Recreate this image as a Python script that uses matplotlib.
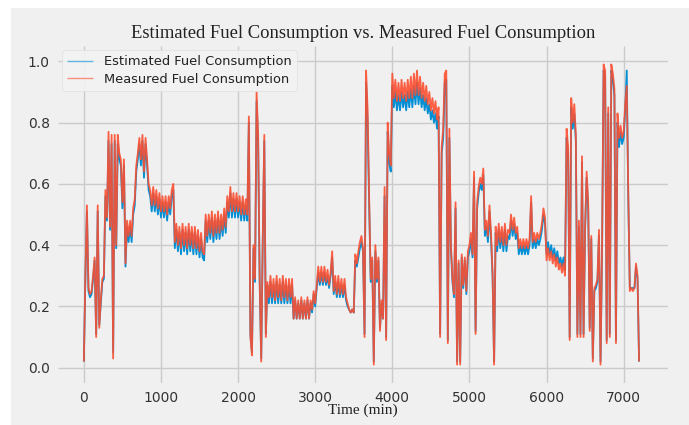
import matplotlib
matplotlib.use("Agg")
import matplotlib.pyplot as plt
import numpy as np
from matplotlib.patches import Rectangle

# ---------------- data ----------------
time_step_min = 20  # one sample every 20 minutes, starting at 0

measured = [
    0.02, 0.30, 0.53, 0.26, 0.24, 0.25, 0.30, 0.36, 0.10, 0.53,
    0.13, 0.22, 0.29, 0.30, 0.58, 0.49, 0.77, 0.46, 0.76, 0.03,
    0.76, 0.40, 0.76, 0.70, 0.68, 0.54, 0.68, 0.34, 0.48, 0.43,
    0.48, 0.43, 0.52, 0.55, 0.66, 0.70, 0.75, 0.68, 0.76, 0.64,
    0.75, 0.68, 0.60, 0.58, 0.53, 0.59, 0.53, 0.58, 0.52, 0.57,
    0.51, 0.56, 0.51, 0.56, 0.50, 0.56, 0.52, 0.58, 0.60, 0.41,
    0.47, 0.40, 0.46, 0.39, 0.47, 0.40, 0.46, 0.39, 0.47, 0.40,
    0.46, 0.39, 0.46, 0.39, 0.45, 0.38, 0.44, 0.38, 0.37, 0.50,
    0.43, 0.50, 0.44, 0.51, 0.43, 0.50, 0.44, 0.51, 0.44, 0.50,
    0.45, 0.52, 0.46, 0.56, 0.51, 0.59, 0.51, 0.57, 0.51, 0.57,
    0.51, 0.56, 0.50, 0.56, 0.50, 0.55, 0.50, 0.82, 0.10, 0.04,
    0.40, 0.29, 0.90, 0.76, 0.29, 0.02, 0.42, 0.76, 0.10, 0.28,
    0.23, 0.30, 0.23, 0.29, 0.22, 0.30, 0.23, 0.29, 0.22, 0.30,
    0.23, 0.29, 0.22, 0.29, 0.23, 0.29, 0.16, 0.23, 0.16, 0.22,
    0.16, 0.23, 0.16, 0.22, 0.16, 0.23, 0.16, 0.22, 0.19, 0.25,
    0.21, 0.27, 0.33, 0.28, 0.33, 0.28, 0.33, 0.28, 0.32, 0.27,
    0.31, 0.38, 0.25, 0.30, 0.24, 0.30, 0.24, 0.29, 0.24, 0.29,
    0.23, 0.21, 0.19, 0.18, 0.19, 0.18, 0.37, 0.34, 0.38, 0.41,
    0.43, 0.39, 0.10, 0.97, 0.84, 0.55, 0.29, 0.36, 0.01, 0.40,
    0.29, 0.36, 0.12, 0.22, 0.16, 0.59, 0.09, 0.80, 0.70, 0.66,
    0.96, 0.88, 0.94, 0.87, 0.93, 0.87, 0.94, 0.88, 0.93, 0.87,
    0.94, 0.88, 0.95, 0.88, 0.96, 0.89, 0.97, 0.89, 0.95, 0.88,
    0.93, 0.87, 0.92, 0.86, 0.90, 0.84, 0.88, 0.83, 0.87, 0.81,
    0.85, 0.10, 0.72, 0.78, 0.96, 0.97, 0.08, 0.78, 0.40, 0.29,
    0.24, 0.54, 0.01, 0.35, 0.01, 0.37, 0.27, 0.36, 0.25, 0.38,
    0.40, 0.44, 0.37, 0.64, 0.11, 0.54, 0.59, 0.62, 0.60, 0.65,
    0.45, 0.48, 0.43, 0.53, 0.44, 0.31, 0.01, 0.46, 0.40, 0.47,
    0.41, 0.46, 0.40, 0.47, 0.40, 0.45, 0.44, 0.50, 0.45, 0.49,
    0.44, 0.46, 0.39, 0.42, 0.39, 0.42, 0.39, 0.42, 0.39, 0.42,
    0.56, 0.41, 0.44, 0.41, 0.44, 0.42, 0.44, 0.47, 0.52, 0.49,
    0.35, 0.39, 0.35, 0.38, 0.34, 0.37, 0.33, 0.36, 0.32, 0.34,
    0.31, 0.34, 0.30, 0.78, 0.72, 0.09, 0.88, 0.80, 0.86, 0.76,
    0.10, 0.48, 0.10, 0.69, 0.10, 0.46, 0.64, 0.54, 0.12, 0.43,
    0.02, 0.26, 0.27, 0.29, 0.45, 0.01, 0.39, 0.99, 0.97, 0.08,
    0.85, 0.10, 0.99, 0.96, 0.91, 0.08, 0.83, 0.75, 0.79, 0.75,
    0.77, 0.86, 0.92, 0.57, 0.25, 0.26, 0.25, 0.26, 0.34, 0.30, 0.02,
]

estimated = [
    0.02, 0.29, 0.51, 0.25, 0.23, 0.24, 0.29, 0.35, 0.11, 0.51,
    0.14, 0.21, 0.28, 0.29, 0.56, 0.48, 0.74, 0.45, 0.73, 0.05,
    0.74, 0.39, 0.73, 0.68, 0.66, 0.52, 0.66, 0.33, 0.46, 0.41,
    0.46, 0.41, 0.50, 0.53, 0.64, 0.68, 0.73, 0.66, 0.74, 0.62,
    0.73, 0.66, 0.58, 0.56, 0.51, 0.57, 0.51, 0.56, 0.50, 0.55,
    0.49, 0.54, 0.49, 0.54, 0.48, 0.54, 0.50, 0.56, 0.58, 0.39,
    0.45, 0.38, 0.44, 0.37, 0.45, 0.38, 0.44, 0.37, 0.45, 0.38,
    0.44, 0.37, 0.44, 0.37, 0.43, 0.36, 0.42, 0.36, 0.35, 0.48,
    0.41, 0.48, 0.42, 0.49, 0.41, 0.48, 0.42, 0.49, 0.42, 0.48,
    0.43, 0.50, 0.44, 0.54, 0.49, 0.57, 0.49, 0.55, 0.49, 0.55,
    0.49, 0.54, 0.48, 0.54, 0.48, 0.53, 0.48, 0.80, 0.11, 0.05,
    0.39, 0.28, 0.87, 0.74, 0.28, 0.03, 0.41, 0.74, 0.11, 0.27,
    0.21, 0.28, 0.21, 0.27, 0.21, 0.28, 0.21, 0.27, 0.21, 0.28,
    0.21, 0.27, 0.21, 0.27, 0.21, 0.27, 0.16, 0.22, 0.16, 0.21,
    0.16, 0.22, 0.16, 0.21, 0.16, 0.22, 0.16, 0.21, 0.18, 0.24,
    0.20, 0.26, 0.31, 0.27, 0.31, 0.27, 0.31, 0.27, 0.30, 0.26,
    0.30, 0.36, 0.24, 0.28, 0.23, 0.28, 0.23, 0.27, 0.23, 0.27,
    0.22, 0.20, 0.19, 0.18, 0.19, 0.18, 0.35, 0.33, 0.36, 0.39,
    0.41, 0.38, 0.11, 0.93, 0.80, 0.53, 0.28, 0.35, 0.02, 0.38,
    0.28, 0.35, 0.13, 0.21, 0.16, 0.56, 0.10, 0.77, 0.67, 0.64,
    0.92, 0.85, 0.90, 0.84, 0.89, 0.84, 0.90, 0.85, 0.89, 0.84,
    0.90, 0.85, 0.91, 0.85, 0.92, 0.86, 0.93, 0.86, 0.91, 0.85,
    0.89, 0.84, 0.88, 0.83, 0.86, 0.81, 0.84, 0.80, 0.83, 0.78,
    0.82, 0.11, 0.70, 0.75, 0.93, 0.94, 0.09, 0.75, 0.39, 0.28,
    0.23, 0.52, 0.02, 0.34, 0.02, 0.36, 0.26, 0.35, 0.24, 0.36,
    0.38, 0.42, 0.36, 0.62, 0.12, 0.52, 0.57, 0.60, 0.58, 0.63,
    0.43, 0.46, 0.41, 0.51, 0.42, 0.30, 0.02, 0.44, 0.38, 0.45,
    0.39, 0.44, 0.38, 0.45, 0.38, 0.43, 0.42, 0.48, 0.43, 0.47,
    0.42, 0.44, 0.37, 0.40, 0.37, 0.40, 0.37, 0.40, 0.37, 0.40,
    0.54, 0.39, 0.42, 0.39, 0.42, 0.40, 0.42, 0.45, 0.50, 0.47,
    0.37, 0.41, 0.37, 0.40, 0.36, 0.39, 0.35, 0.38, 0.34, 0.36,
    0.33, 0.36, 0.32, 0.75, 0.70, 0.10, 0.85, 0.78, 0.83, 0.74,
    0.11, 0.46, 0.11, 0.67, 0.11, 0.45, 0.62, 0.52, 0.13, 0.42,
    0.03, 0.25, 0.26, 0.28, 0.43, 0.02, 0.38, 0.97, 0.95, 0.09,
    0.83, 0.11, 0.97, 0.94, 0.89, 0.09, 0.80, 0.72, 0.77, 0.73,
    0.75, 0.84, 0.97, 0.55, 0.26, 0.26, 0.26, 0.26, 0.33, 0.29, 0.02,
]

series_labels = ["Estimated Fuel Consumption", "Measured Fuel Consumption"]
title_text = "Estimated Fuel Consumption vs. Measured Fuel Consumption"
xlabel_text = "Time (min)"
xticks = [0, 1000, 2000, 3000, 4000, 5000, 6000, 7000]
yticks = [0.0, 0.2, 0.4, 0.6, 0.8, 1.0]

# ---------------- plot ----------------
plt.style.use("fivethirtyeight")
W, H = 689, 425
fig = plt.figure(figsize=(W / 100, H / 100), dpi=100, facecolor="white")
# grey panel of the figure (white margin at top/left in the reference)
fig.patches.append(Rectangle((11 / W, 0), 1 - 11 / W, 1 - 8 / H,
                             transform=fig.transFigure, facecolor="#f0f0f0",
                             edgecolor="none", zorder=-10))

ax = fig.add_axes([58 / W, 1 - 383 / H, (668 - 58) / W, (383 - 46) / H])
ax.set_facecolor("#f0f0f0")

t_est = np.arange(len(estimated)) * time_step_min
t_meas = np.arange(len(measured)) * time_step_min
ax.plot(t_est, estimated, color="#008fd5", lw=1.3, label=series_labels[0], zorder=3)
ax.plot(t_meas, measured, color="#fc4f30", lw=1.3, alpha=0.9, label=series_labels[1], zorder=4)

ax.set_xlim(-335, 7575)
ax.set_ylim(-0.05, 1.05)
ax.set_xticks(xticks)
ax.set_yticks(yticks)
ax.set_yticklabels([f"{v:.1f}" for v in yticks])
ax.tick_params(axis="both", labelsize=10, colors="#333333", length=0, pad=6)
ax.grid(True, color="#cbcbcb", lw=1.0)
for s in ax.spines.values():
    s.set_visible(False)

fig.text((58 + 668) / 2 / W, 1 - 33 / H, title_text, ha="center", va="center",
         family="Liberation Serif", fontsize=13.4, color="#222222")
fig.text((58 + 668) / 2 / W, 1 - 410 / H, xlabel_text, ha="center", va="center",
         family="Liberation Serif", fontsize=11, color="#222222")

leg = ax.legend(loc="upper left", fontsize=9.4, frameon=True, handlelength=2.0,
                borderaxespad=0.3, labelspacing=0.35)
leg.get_frame().set_facecolor("#f3f3f3")
leg.get_frame().set_edgecolor("#dddddd")
leg.get_frame().set_alpha(0.9)
for txt in leg.get_texts():
    txt.set_color("#222222")
for ln in leg.get_lines():
    ln.set_linewidth(1.0)
    ln.set_alpha(0.6)

fig.savefig("out.png", dpi=100, facecolor="white")
